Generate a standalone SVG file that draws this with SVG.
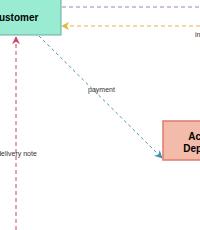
<svg xmlns="http://www.w3.org/2000/svg" width="200" height="230" viewBox="0 0 200 230">
<style>
.lbl{font-family:"Liberation Sans",Arial,sans-serif;font-size:7px;fill:#333}
.nt{font-family:"Liberation Sans",Arial,sans-serif;font-size:10px;font-weight:bold;fill:#000;text-anchor:middle}
</style>
<defs>
<marker id="aO" viewBox="0 0 10 10" refX="9" refY="5" markerWidth="8" markerHeight="8" markerUnits="userSpaceOnUse" orient="auto"><path d="M0,0 L10,5 L0,10 L3,5 Z" fill="#E6B43C"/></marker>
<marker id="aB" viewBox="0 0 10 10" refX="9" refY="5" markerWidth="8" markerHeight="8" markerUnits="userSpaceOnUse" orient="auto"><path d="M0,0 L10,5 L0,10 L3,5 Z" fill="#3E93AE"/></marker>
<marker id="aR" viewBox="0 0 10 10" refX="9" refY="5" markerWidth="8" markerHeight="8" markerUnits="userSpaceOnUse" orient="auto"><path d="M0,0 L10,5 L0,10 L3,5 Z" fill="#C8466A"/></marker>
</defs>
<rect width="200" height="230" fill="#fff"/>
<g id="connectors" fill="none">
<line x1="62" y1="7" x2="200" y2="7" stroke="#A680B8" stroke-width="1" stroke-dasharray="4,3"/>
<line x1="200" y1="26" x2="62" y2="26" stroke="#E6B43C" stroke-width="1" stroke-dasharray="4,3" marker-end="url(#aO)"/>
<line x1="39" y1="36" x2="162" y2="158" stroke="#3E93AE" stroke-width="1" stroke-dasharray="3,3" marker-end="url(#aB)"/>
<line x1="16" y1="230" x2="16" y2="37" stroke="#C8466A" stroke-width="1" stroke-dasharray="4,3" marker-end="url(#aR)"/>
<text class="lbl" x="101.5" y="91.5" text-anchor="middle">payment</text>
<text class="lbl" x="17" y="155.5" text-anchor="middle">delivery note</text>
<text class="lbl" x="195" y="36.5">in</text>
</g>
<g id="customer">
<rect x="-30" y="-10" width="91" height="45" fill="#99EBD1" stroke="#67AB9F" stroke-width="1"/>
<text class="nt" x="15" y="20.5">Customer</text>
</g>
<g id="accounts">
<rect x="163" y="121" width="100" height="39" fill="#F2BBAA" stroke="#E07B69" stroke-width="1.5"/>
<text class="nt" x="211" y="139.5">Accounts</text>
<text class="nt" x="211" y="151.5">Department</text>
</g>
</svg>
